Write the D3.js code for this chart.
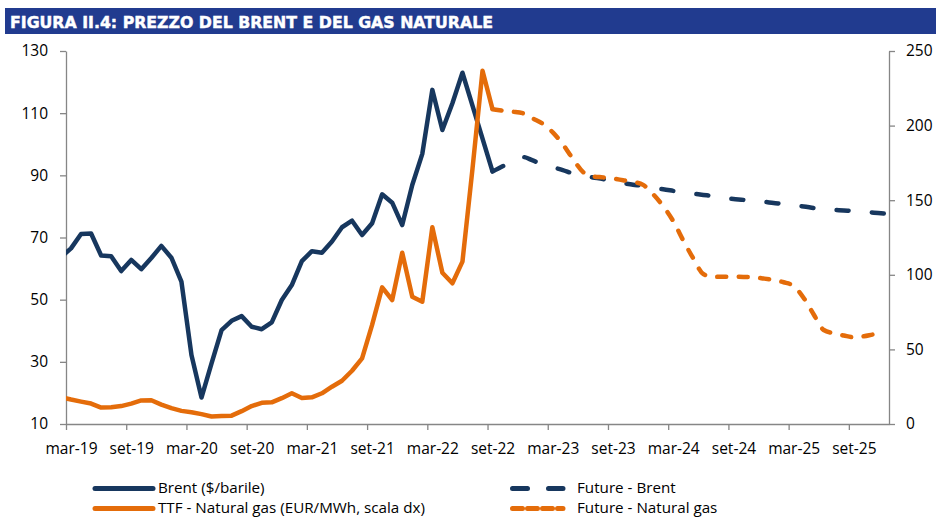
<!DOCTYPE html>
<html><head><meta charset="utf-8">
<script src="https://cdn.jsdelivr.net/npm/d3@7"></script>
<style>
body{margin:0;background:#fff}
svg{display:block}
text{font-family:"Open Sans",sans-serif;fill:#000}
</style>
</head><body>
<svg id="c" width="936" height="517"></svg>
<script>
const titleText = "FIGURA II.4: PREZZO DEL BRENT E DEL GAS NATURALE";
// category index 0 = mar-19 ... 81 = dic-25
const tickLabels = ["mar-19","set-19","mar-20","set-20","mar-21","set-21","mar-22","set-22","mar-23","set-23","mar-24","set-24","mar-25","set-25"];
const tickIndex = [0,6,12,18,24,30,36,42,48,54,60,66,72,78];
const leftTicks = [10,30,50,70,90,110,130];
const rightTicks = [0,50,100,150,200,250];

// actual series start at feb-19 (index -1), end at set-22 (index 42)
const histStart = -1;
const brent = [63.7,66.5,71.1,71.3,64.2,64.0,59.2,62.8,59.8,63.4,67.3,
  63.5,55.8,32.2,18.5,29.5,40.2,43.2,44.7,41.3,40.5,42.7,49.9,
  54.7,62.4,65.6,65.1,68.7,73.3,75.4,70.8,74.6,83.9,81.2,74.0,
  86.9,96.9,117.5,104.6,113.2,123.0,112.4,101.8,91.2];
const ttf = [18.0,16.4,15.0,13.7,11.0,11.3,12.0,13.7,15.8,15.9,13.0,
  10.6,8.8,7.9,6.6,5.0,5.4,5.6,8.6,12.0,14.2,14.5,17.3,
  20.6,17.4,17.9,20.6,25.0,29.0,35.7,44.0,66.4,91.6,83.1,114.8,
  85.3,82.0,131.8,101.4,94.3,108.8,171.0,236.8,210.9];

// futures from set-22 (index 42) to dic-25 (index 81)
const futStart = 42;
const futureBrent = [91.2,92.9,94.5,95.9,94.8,93.5,92.6,91.7,90.6,89.9,89.3,88.8,
  88.0,87.5,87.0,86.6,85.9,85.5,85.0,84.5,84.1,83.7,83.3,82.8,
  82.4,82.1,81.7,81.5,81.1,80.8,80.3,80.0,79.5,79.1,78.9,78.7,
  78.5,78.2,78.0,77.7];
const futureGas = [210.9,210.0,209.3,208.3,204.8,201.2,195.5,187.5,177.8,169.0,166.0,165.3,
  164.5,163.4,162.3,160.3,154.0,146.0,136.0,123.0,111.0,100.5,98.6,98.7,
  98.7,98.6,98.3,97.5,96.5,95.0,92.5,84.5,73.4,63.0,60.8,59.3,
  58.1,58.8,60.1,61.0];

const legendLabels = ["Brent ($/barile)","TTF - Natural gas (EUR/MWh, scala dx)","Future - Brent","Future - Natural gas"];

const NAVY = "#17375e", ORANGE = "#e46c0a", AXIS = "#868686";
const svg = d3.select("#c");
const L = 66, R = 889, T = 51, B = 424;
const nCat = 82;

const x = d3.scaleLinear().domain([-0.5, nCat - 0.5]).range([L, R]);
const yL = d3.scaleLinear().domain([10, 130]).range([B, T]);
const yR = d3.scaleLinear().domain([0, 250]).range([B, T]);

// title bar
svg.append("rect").attr("x", 5).attr("y", 8).attr("width", 931).attr("height", 26).attr("fill", "#213b8f");
svg.append("text").attr("x", 10).attr("y", 28.3).text(titleText)
  .attr("textLength", 483).attr("lengthAdjust", "spacingAndGlyphs")
  .style("font-family", "'DejaVu Sans',sans-serif").style("font-weight", "bold")
  .style("font-size", "15.8px").style("fill", "#fff")
  .style("stroke", "#fff").style("stroke-width", 0.45);

// clip
svg.append("clipPath").attr("id", "pc").append("rect")
  .attr("x", L).attr("y", 0).attr("width", R - L).attr("height", 517);

// axes
const fs = "15.5px";
const gL = svg.append("g").attr("transform", `translate(${L},0)`)
  .call(d3.axisLeft(yL).tickValues(leftTicks).tickSize(6).tickPadding(12).tickSizeOuter(0));
const gR = svg.append("g").attr("transform", `translate(${R},0)`)
  .call(d3.axisRight(yR).tickValues(rightTicks).tickSize(6).tickPadding(11).tickSizeOuter(0));
const gB = svg.append("g").attr("transform", `translate(0,${B})`)
  .call(d3.axisBottom(x).tickValues(tickIndex.map(i => i - 0.5)).tickFormat((d, i) => tickLabels[i])
    .tickSize(6).tickPadding(17).tickSizeOuter(0));
[gL, gR, gB].forEach(g => {
  g.selectAll("path.domain").attr("stroke", AXIS).attr("stroke-width", 1.3);
  g.selectAll(".tick line").attr("stroke", AXIS).attr("stroke-width", 1.3);
  g.selectAll(".tick text").style("font-size", fs).style("font-family", "'Open Sans',sans-serif").attr("fill", "#000");
});
gB.selectAll(".tick text").attr("dx", x(0) - x(-0.5)).attr("dy", "0.45em");

// lines
const plot = svg.append("g").attr("clip-path", "url(#pc)");
const lineL = d3.line().x(d => x(d[0])).y(d => yL(d[1]));
const lineR = d3.line().x(d => x(d[0])).y(d => yR(d[1]));
const lineLs = d3.line().x(d => x(d[0])).y(d => yL(d[1])).curve(d3.curveMonotoneX);
const lineRs = d3.line().x(d => x(d[0])).y(d => yR(d[1])).curve(d3.curveMonotoneX);
const idx = (arr, s) => arr.map((v, i) => [s + i, v]);

plot.append("path").attr("d", lineL(idx(brent, histStart)))
  .attr("fill", "none").attr("stroke", NAVY).attr("stroke-width", 4.5).attr("stroke-linejoin", "round");
plot.append("path").attr("d", lineLs(idx(futureBrent, futStart)))
  .attr("fill", "none").attr("stroke", NAVY).attr("stroke-width", 4.5)
  .attr("stroke-linecap", "round").attr("stroke-dasharray", "12,23.3");
plot.append("path").attr("d", lineR(idx(ttf, histStart)))
  .attr("fill", "none").attr("stroke", ORANGE).attr("stroke-width", 4.5).attr("stroke-linejoin", "round");
plot.append("path").attr("d", lineRs(idx(futureGas, futStart)))
  .attr("fill", "none").attr("stroke", ORANGE).attr("stroke-width", 4.5)
  .attr("stroke-linecap", "round").attr("stroke-dasharray", "9,12.5");

// legend
const lg = svg.append("g");
const items = [
  {x: 95, y: 488.5, c: NAVY, dash: null, t: legendLabels[0]},
  {x: 95, y: 508.5, c: ORANGE, dash: null, t: legendLabels[1]},
  {x: 512.5, y: 488.5, c: NAVY, dash: "15,21", t: legendLabels[2]},
  {x: 512.5, y: 508.5, c: ORANGE, dash: "10,5", t: legendLabels[3]}
];
items.forEach((it, i) => {
  lg.append("line").attr("x1", it.x).attr("x2", i < 2 ? 153 : 563).attr("y1", it.y).attr("y2", it.y)
    .attr("stroke", it.c).attr("stroke-width", 5).attr("stroke-linecap", "round")
    .attr("stroke-dasharray", it.dash);
  lg.append("text").attr("x", i < 2 ? 158 : 577).attr("y", it.y + 4.6).text(it.t)
    .style("font-size", "15.2px");
});
</script>
</body></html>
